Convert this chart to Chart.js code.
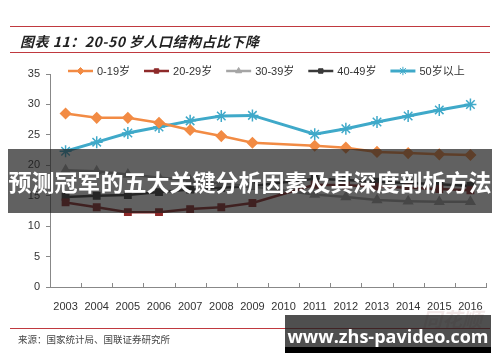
<!DOCTYPE html>
<html>
<head>
<meta charset="utf-8">
<script src="https://cdn.jsdelivr.net/npm/chart.js@4"></script>
<style>
  html,body{margin:0;padding:0;background:#fff;}
  body{width:500px;height:362px;position:relative;overflow:hidden;font-family:"Liberation Sans",Arial,sans-serif;}
  #chart{position:absolute;left:0;top:0;}
  .rule{position:absolute;left:10px;width:480px;height:1px;background:#c0393f;}
  .title{position:absolute;left:20px;top:31px;font:italic bold 14px "Noto Sans CJK SC",serif;color:#222;letter-spacing:0.5px;}
  .source{position:absolute;left:18px;top:332px;font:9.5px "Noto Sans CJK SC",serif;color:#444;}
  .ths{position:absolute;left:422px;top:304px;font:italic bold 20px "Noto Sans CJK SC",sans-serif;color:#f1e7e7;}
  .banner{position:absolute;left:8px;top:149px;width:484px;height:64px;background:rgba(30,30,30,0.7);
    color:#fff;font:bold 23px "Noto Sans CJK SC",sans-serif;line-height:64px;white-space:nowrap;text-align:center;}
  .wm{position:absolute;left:285px;top:315px;width:206px;height:38px;background:rgba(30,30,30,0.78);
    border-bottom:6px solid #000;box-sizing:border-box;color:#fff;font:bold 18px "Open Sans",sans-serif;
    text-align:center;line-height:42px;white-space:nowrap;}
</style>
</head>
<body>
<canvas id="chart" width="500" height="362"></canvas>
<div class="rule" style="top:26px"></div>
<div class="title">图表 11：20-50 岁人口结构占比下降</div>
<div class="rule" style="top:52px"></div>
<div class="ths">同花顺</div>
<div class="rule" style="top:328px"></div>
<div class="source">来源：国家统计局、国联证券研究所</div>
<div class="banner">预测冠军的五大关键分析因素及其深度剖析方法</div>
<div class="wm">www.zhs-pavideo.com</div>
<script>
// 연도 / 연령대별 인구 비중(%) — 2010년은 원본에 점이 없어 null
const years = ["2003","2004","2005","2006","2007","2008","2009","2010","2011","2012","2013","2014","2015","2016"];
const age0to19  = [28.5, 27.8, 27.8, 27.0, 25.8, 24.8, 23.7, null, 23.2, 22.9, 22.2, 22.0, 21.8, 21.7];
const age20to29 = [13.9, 13.1, 12.3, 12.3, 12.8, 13.1, 13.8, null, 16.8, 16.7, 16.5, 16.3, 16.1, 15.9];
const age30to39 = [19.2, 19.0, 18.5, 18.0, 17.5, 17.0, 16.5, null, 15.2, 14.8, 14.3, 14.1, 14.0, 14.0];
const age40to49 = [14.8, 15.0, 15.1, 15.6, 16.0, 16.3, 16.6, null, 17.8, 17.6, 17.3, 17.1, 16.9, 16.6];
const age50plus = [22.3, 23.8, 25.3, 26.3, 27.3, 28.1, 28.2, null, 25.1, 26.0, 27.1, 28.1, 29.1, 30.0];
const yTicks = [0, 5, 10, 15, 20, 25, 30, 35];

const seriesDefs = [
  {label:"0-19岁",  data:age0to19,  color:"#F28B44", style:"rectRot",  r:5,   w:2.5},
  {label:"20-29岁", data:age20to29, color:"#8E2A2A", style:"rect",     r:4.5, w:2.5},
  {label:"30-39岁", data:age30to39, color:"#A5A5A5", style:"triangle", r:5,   w:2.5},
  {label:"40-49岁", data:age40to49, color:"#3A3A3A", style:"rect",     r:4.5, w:2.5},
  {label:"50岁以上", data:age50plus, color:"#3FA9C9", style:"star",     r:6,   w:3},
];

// 선+마커 범례, x축 안쪽 눈금
const lineLegend = {
  id:"lineLegend",
  afterDraw(chart){
    const ctx = chart.ctx;
    ctx.save();
    ctx.font = "11px 'Liberation Sans', Arial, 'Noto Sans CJK SC', sans-serif";
    ctx.textBaseline = "middle";
    let x = 68; const y = 71;
    chart.data.datasets.forEach(ds=>{
      ctx.strokeStyle = ds.borderColor; ctx.lineWidth = ds.borderWidth;
      ctx.beginPath(); ctx.moveTo(x, y); ctx.lineTo(x+25, y); ctx.stroke();
      ctx.fillStyle = ds.borderColor; ctx.lineWidth = 1;
      Chart.helpers.drawPoint(ctx, {pointStyle:ds.pointStyle, radius:ds.pointRadius*0.7, rotation:0, borderWidth:1}, x+12.5, y);
      ctx.fillStyle = "#333";
      ctx.fillText(ds.label, x+29, y+1);
      x += 29 + ctx.measureText(ds.label).width + 14;
    });
    const xs = chart.scales.x;
    const n = chart.data.labels.length;
    ctx.strokeStyle = "#888"; ctx.lineWidth = 1;
    for(let i=0;i<=n;i++){
      const px = Math.round(xs.left + i*(xs.right-xs.left)/n) + 0.5;
      ctx.beginPath(); ctx.moveTo(px, xs.top); ctx.lineTo(px, xs.top-4); ctx.stroke();
    }
    ctx.restore();
  }
};

new Chart(document.getElementById("chart"), {
  type:"line",
  data:{
    labels: years,
    datasets: seriesDefs.map(s=>({
      label:s.label, data:s.data,
      borderColor:s.color, backgroundColor:s.color,
      borderWidth:s.w, pointStyle:s.style, pointRadius:s.r,
      pointBorderColor:s.color, pointBackgroundColor:s.color, pointBorderWidth:1.5,
      spanGaps:true, tension:0,
    }))
  },
  options:{
    responsive:false, animation:false,
    layout:{padding:{top:74, right:14, left:0, bottom:0}},
    plugins:{legend:{display:false}, tooltip:{enabled:false}},
    scales:{
      x:{
        offset:true,
        grid:{display:false},
        border:{color:"#888", width:1},
        ticks:{color:"#333", padding:5, font:{size:11, family:"'Liberation Sans', Arial"}, maxRotation:0, autoSkip:false},
        afterFit:s=>{ s.height = 75; }
      },
      y:{
        min:0, max:35,
        afterBuildTicks:s=>{ s.ticks = yTicks.map(v=>({value:v})); },
        grid:{drawOnChartArea:false, tickLength:4, color:"#888"},
        border:{color:"#888", width:1},
        ticks:{color:"#333", padding:6, font:{size:11, family:"'Liberation Sans', Arial"}},
        afterFit:s=>{ s.width = 50; }
      }
    }
  },
  plugins:[lineLegend]
});
</script>
</body>
</html>
